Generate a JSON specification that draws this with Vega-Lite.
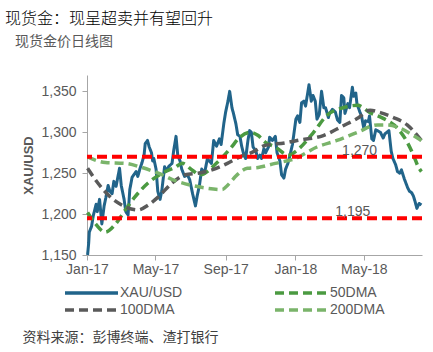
{
  "$schema": "https://vega.github.io/schema/vega-lite/v6.json",
  "width": 335,
  "height": 180,
  "autosize": {"type": "none"},
  "padding": {"left": 87, "top": 75, "right": 11, "bottom": 97},
  "background": "white",
  "config": {"view": {"stroke": null}, "font": "Liberation Sans", "title": {"fontWeight": 300}},
  "title": {
    "text": "现货金：现呈超卖并有望回升",
    "subtitle": "\u2800现货金价日线图",
    "anchor": "start",
    "frame": "group",
    "dx": -82,
    "offset": 26,
    "font": "Noto Sans CJK SC",
    "fontSize": 16,
    "fontWeight": 300,
    "color": "#000000",
    "subtitleFont": "Noto Sans CJK SC",
    "subtitleFontSize": 14,
    "subtitleFontWeight": 400,
    "subtitleColor": "#595959",
    "subtitlePadding": 8
  },
  "datasets": {
    "levels": [
      {"d": "2018-03-24", "v": 1270, "label": "1,270"},
      {"d": "2018-03-12", "v": 1195, "label": "1,195"}
    ],
    "prices": [
      {"d":"2017-01-02","s":"XAU/USD","v":1150},
      {"d":"2017-01-04","s":"XAU/USD","v":1165},
      {"d":"2017-01-05","s":"XAU/USD","v":1178},
      {"d":"2017-01-09","s":"XAU/USD","v":1185},
      {"d":"2017-01-12","s":"XAU/USD","v":1198},
      {"d":"2017-01-17","s":"XAU/USD","v":1212},
      {"d":"2017-01-19","s":"XAU/USD","v":1203},
      {"d":"2017-01-23","s":"XAU/USD","v":1218},
      {"d":"2017-01-27","s":"XAU/USD","v":1188},
      {"d":"2017-01-31","s":"XAU/USD","v":1210},
      {"d":"2017-02-03","s":"XAU/USD","v":1220},
      {"d":"2017-02-07","s":"XAU/USD","v":1235},
      {"d":"2017-02-10","s":"XAU/USD","v":1228},
      {"d":"2017-02-14","s":"XAU/USD","v":1225},
      {"d":"2017-02-17","s":"XAU/USD","v":1240},
      {"d":"2017-02-21","s":"XAU/USD","v":1234},
      {"d":"2017-02-27","s":"XAU/USD","v":1256},
      {"d":"2017-03-02","s":"XAU/USD","v":1235},
      {"d":"2017-03-07","s":"XAU/USD","v":1218},
      {"d":"2017-03-10","s":"XAU/USD","v":1203},
      {"d":"2017-03-14","s":"XAU/USD","v":1199},
      {"d":"2017-03-17","s":"XAU/USD","v":1230},
      {"d":"2017-03-21","s":"XAU/USD","v":1245},
      {"d":"2017-03-24","s":"XAU/USD","v":1248},
      {"d":"2017-03-28","s":"XAU/USD","v":1252},
      {"d":"2017-03-31","s":"XAU/USD","v":1246},
      {"d":"2017-04-04","s":"XAU/USD","v":1256},
      {"d":"2017-04-07","s":"XAU/USD","v":1262},
      {"d":"2017-04-11","s":"XAU/USD","v":1272},
      {"d":"2017-04-13","s":"XAU/USD","v":1286},
      {"d":"2017-04-17","s":"XAU/USD","v":1290},
      {"d":"2017-04-20","s":"XAU/USD","v":1282},
      {"d":"2017-04-24","s":"XAU/USD","v":1275},
      {"d":"2017-04-26","s":"XAU/USD","v":1265},
      {"d":"2017-04-28","s":"XAU/USD","v":1268},
      {"d":"2017-05-02","s":"XAU/USD","v":1255},
      {"d":"2017-05-05","s":"XAU/USD","v":1228},
      {"d":"2017-05-09","s":"XAU/USD","v":1218},
      {"d":"2017-05-12","s":"XAU/USD","v":1228},
      {"d":"2017-05-17","s":"XAU/USD","v":1258},
      {"d":"2017-05-19","s":"XAU/USD","v":1252},
      {"d":"2017-05-24","s":"XAU/USD","v":1258},
      {"d":"2017-05-30","s":"XAU/USD","v":1262},
      {"d":"2017-06-02","s":"XAU/USD","v":1278},
      {"d":"2017-06-06","s":"XAU/USD","v":1295},
      {"d":"2017-06-09","s":"XAU/USD","v":1272},
      {"d":"2017-06-13","s":"XAU/USD","v":1265},
      {"d":"2017-06-16","s":"XAU/USD","v":1255},
      {"d":"2017-06-21","s":"XAU/USD","v":1246},
      {"d":"2017-06-26","s":"XAU/USD","v":1248},
      {"d":"2017-06-30","s":"XAU/USD","v":1242},
      {"d":"2017-07-05","s":"XAU/USD","v":1225},
      {"d":"2017-07-10","s":"XAU/USD","v":1210},
      {"d":"2017-07-13","s":"XAU/USD","v":1222},
      {"d":"2017-07-17","s":"XAU/USD","v":1235},
      {"d":"2017-07-21","s":"XAU/USD","v":1255},
      {"d":"2017-07-26","s":"XAU/USD","v":1250},
      {"d":"2017-07-31","s":"XAU/USD","v":1268},
      {"d":"2017-08-03","s":"XAU/USD","v":1265},
      {"d":"2017-08-07","s":"XAU/USD","v":1262},
      {"d":"2017-08-11","s":"XAU/USD","v":1290},
      {"d":"2017-08-16","s":"XAU/USD","v":1283},
      {"d":"2017-08-21","s":"XAU/USD","v":1292},
      {"d":"2017-08-24","s":"XAU/USD","v":1285},
      {"d":"2017-08-29","s":"XAU/USD","v":1312},
      {"d":"2017-09-01","s":"XAU/USD","v":1325},
      {"d":"2017-09-05","s":"XAU/USD","v":1338},
      {"d":"2017-09-08","s":"XAU/USD","v":1350},
      {"d":"2017-09-12","s":"XAU/USD","v":1330},
      {"d":"2017-09-15","s":"XAU/USD","v":1322},
      {"d":"2017-09-19","s":"XAU/USD","v":1310},
      {"d":"2017-09-22","s":"XAU/USD","v":1297},
      {"d":"2017-09-26","s":"XAU/USD","v":1295},
      {"d":"2017-09-29","s":"XAU/USD","v":1283},
      {"d":"2017-10-03","s":"XAU/USD","v":1272},
      {"d":"2017-10-06","s":"XAU/USD","v":1268},
      {"d":"2017-10-10","s":"XAU/USD","v":1290},
      {"d":"2017-10-13","s":"XAU/USD","v":1302},
      {"d":"2017-10-16","s":"XAU/USD","v":1300},
      {"d":"2017-10-19","s":"XAU/USD","v":1282},
      {"d":"2017-10-24","s":"XAU/USD","v":1277},
      {"d":"2017-10-27","s":"XAU/USD","v":1268},
      {"d":"2017-10-31","s":"XAU/USD","v":1272},
      {"d":"2017-11-03","s":"XAU/USD","v":1268},
      {"d":"2017-11-07","s":"XAU/USD","v":1280},
      {"d":"2017-11-10","s":"XAU/USD","v":1275},
      {"d":"2017-11-15","s":"XAU/USD","v":1282},
      {"d":"2017-11-17","s":"XAU/USD","v":1294},
      {"d":"2017-11-22","s":"XAU/USD","v":1290},
      {"d":"2017-11-27","s":"XAU/USD","v":1295},
      {"d":"2017-11-30","s":"XAU/USD","v":1275},
      {"d":"2017-12-05","s":"XAU/USD","v":1265},
      {"d":"2017-12-08","s":"XAU/USD","v":1248},
      {"d":"2017-12-12","s":"XAU/USD","v":1244},
      {"d":"2017-12-15","s":"XAU/USD","v":1255},
      {"d":"2017-12-19","s":"XAU/USD","v":1262},
      {"d":"2017-12-22","s":"XAU/USD","v":1270},
      {"d":"2017-12-27","s":"XAU/USD","v":1285},
      {"d":"2018-01-02","s":"XAU/USD","v":1316},
      {"d":"2018-01-05","s":"XAU/USD","v":1320},
      {"d":"2018-01-09","s":"XAU/USD","v":1312},
      {"d":"2018-01-12","s":"XAU/USD","v":1336},
      {"d":"2018-01-16","s":"XAU/USD","v":1338},
      {"d":"2018-01-19","s":"XAU/USD","v":1332},
      {"d":"2018-01-25","s":"XAU/USD","v":1358},
      {"d":"2018-01-29","s":"XAU/USD","v":1338},
      {"d":"2018-02-01","s":"XAU/USD","v":1345},
      {"d":"2018-02-05","s":"XAU/USD","v":1338},
      {"d":"2018-02-08","s":"XAU/USD","v":1316},
      {"d":"2018-02-12","s":"XAU/USD","v":1322},
      {"d":"2018-02-16","s":"XAU/USD","v":1350},
      {"d":"2018-02-20","s":"XAU/USD","v":1330},
      {"d":"2018-02-23","s":"XAU/USD","v":1330},
      {"d":"2018-02-28","s":"XAU/USD","v":1318},
      {"d":"2018-03-02","s":"XAU/USD","v":1323},
      {"d":"2018-03-07","s":"XAU/USD","v":1328},
      {"d":"2018-03-12","s":"XAU/USD","v":1325},
      {"d":"2018-03-16","s":"XAU/USD","v":1315},
      {"d":"2018-03-20","s":"XAU/USD","v":1312},
      {"d":"2018-03-23","s":"XAU/USD","v":1345},
      {"d":"2018-03-27","s":"XAU/USD","v":1342},
      {"d":"2018-03-29","s":"XAU/USD","v":1323},
      {"d":"2018-04-03","s":"XAU/USD","v":1335},
      {"d":"2018-04-06","s":"XAU/USD","v":1330},
      {"d":"2018-04-11","s":"XAU/USD","v":1355},
      {"d":"2018-04-13","s":"XAU/USD","v":1344},
      {"d":"2018-04-17","s":"XAU/USD","v":1348},
      {"d":"2018-04-19","s":"XAU/USD","v":1335},
      {"d":"2018-04-24","s":"XAU/USD","v":1325},
      {"d":"2018-04-27","s":"XAU/USD","v":1320},
      {"d":"2018-05-01","s":"XAU/USD","v":1305},
      {"d":"2018-05-04","s":"XAU/USD","v":1314},
      {"d":"2018-05-09","s":"XAU/USD","v":1313},
      {"d":"2018-05-11","s":"XAU/USD","v":1320},
      {"d":"2018-05-15","s":"XAU/USD","v":1292},
      {"d":"2018-05-18","s":"XAU/USD","v":1290},
      {"d":"2018-05-22","s":"XAU/USD","v":1303},
      {"d":"2018-05-25","s":"XAU/USD","v":1302},
      {"d":"2018-05-30","s":"XAU/USD","v":1300},
      {"d":"2018-06-04","s":"XAU/USD","v":1293},
      {"d":"2018-06-07","s":"XAU/USD","v":1298},
      {"d":"2018-06-14","s":"XAU/USD","v":1302},
      {"d":"2018-06-18","s":"XAU/USD","v":1277},
      {"d":"2018-06-21","s":"XAU/USD","v":1268},
      {"d":"2018-06-26","s":"XAU/USD","v":1260},
      {"d":"2018-06-29","s":"XAU/USD","v":1252},
      {"d":"2018-07-03","s":"XAU/USD","v":1250},
      {"d":"2018-07-06","s":"XAU/USD","v":1254},
      {"d":"2018-07-11","s":"XAU/USD","v":1243},
      {"d":"2018-07-17","s":"XAU/USD","v":1232},
      {"d":"2018-07-20","s":"XAU/USD","v":1228},
      {"d":"2018-07-24","s":"XAU/USD","v":1226},
      {"d":"2018-07-27","s":"XAU/USD","v":1222},
      {"d":"2018-07-30","s":"XAU/USD","v":1215},
      {"d":"2018-08-02","s":"XAU/USD","v":1207},
      {"d":"2018-08-06","s":"XAU/USD","v":1213},
      {"d":"2018-08-10","s":"XAU/USD","v":1211},

      {"d":"2017-01-02","s":"50DMA","v":1202},
      {"d":"2017-01-15","s":"50DMA","v":1189},
      {"d":"2017-02-02","s":"50DMA","v":1178},
      {"d":"2017-02-19","s":"50DMA","v":1187},
      {"d":"2017-03-09","s":"50DMA","v":1205},
      {"d":"2017-03-26","s":"50DMA","v":1221},
      {"d":"2017-04-18","s":"50DMA","v":1238},
      {"d":"2017-05-13","s":"50DMA","v":1250},
      {"d":"2017-06-04","s":"50DMA","v":1257},
      {"d":"2017-06-17","s":"50DMA","v":1262},
      {"d":"2017-07-04","s":"50DMA","v":1254},
      {"d":"2017-07-18","s":"50DMA","v":1248},
      {"d":"2017-08-17","s":"50DMA","v":1263},
      {"d":"2017-09-09","s":"50DMA","v":1280},
      {"d":"2017-09-26","s":"50DMA","v":1294},
      {"d":"2017-10-14","s":"50DMA","v":1300},
      {"d":"2017-10-28","s":"50DMA","v":1296},
      {"d":"2017-11-09","s":"50DMA","v":1288},
      {"d":"2017-11-27","s":"50DMA","v":1282},
      {"d":"2017-12-20","s":"50DMA","v":1272},
      {"d":"2018-01-04","s":"50DMA","v":1278},
      {"d":"2018-02-01","s":"50DMA","v":1299},
      {"d":"2018-02-26","s":"50DMA","v":1321},
      {"d":"2018-03-26","s":"50DMA","v":1330},
      {"d":"2018-04-20","s":"50DMA","v":1333},
      {"d":"2018-05-12","s":"50DMA","v":1324},
      {"d":"2018-06-04","s":"50DMA","v":1317},
      {"d":"2018-06-29","s":"50DMA","v":1305},
      {"d":"2018-07-16","s":"50DMA","v":1288},
      {"d":"2018-07-27","s":"50DMA","v":1272},
      {"d":"2018-08-05","s":"50DMA","v":1257},
      {"d":"2018-08-10","s":"50DMA","v":1252},

      {"d":"2017-01-02","s":"100DMA","v":1256},
      {"d":"2017-01-20","s":"100DMA","v":1238},
      {"d":"2017-02-14","s":"100DMA","v":1219},
      {"d":"2017-03-09","s":"100DMA","v":1209},
      {"d":"2017-03-31","s":"100DMA","v":1205},
      {"d":"2017-04-18","s":"100DMA","v":1211},
      {"d":"2017-05-06","s":"100DMA","v":1221},
      {"d":"2017-05-30","s":"100DMA","v":1238},
      {"d":"2017-06-22","s":"100DMA","v":1248},
      {"d":"2017-07-15","s":"100DMA","v":1250},
      {"d":"2017-08-08","s":"100DMA","v":1254},
      {"d":"2017-09-04","s":"100DMA","v":1262},
      {"d":"2017-09-26","s":"100DMA","v":1270},
      {"d":"2017-10-19","s":"100DMA","v":1276},
      {"d":"2017-11-09","s":"100DMA","v":1284},
      {"d":"2017-12-14","s":"100DMA","v":1287},
      {"d":"2018-01-04","s":"100DMA","v":1290},
      {"d":"2018-02-19","s":"100DMA","v":1296},
      {"d":"2018-03-26","s":"100DMA","v":1308},
      {"d":"2018-04-20","s":"100DMA","v":1317},
      {"d":"2018-05-12","s":"100DMA","v":1327},
      {"d":"2018-05-30","s":"100DMA","v":1324},
      {"d":"2018-06-22","s":"100DMA","v":1318},
      {"d":"2018-07-16","s":"100DMA","v":1309},
      {"d":"2018-08-03","s":"100DMA","v":1296},
      {"d":"2018-08-10","s":"100DMA","v":1290},

      {"d":"2017-01-02","s":"200DMA","v":1270},
      {"d":"2017-02-02","s":"200DMA","v":1263},
      {"d":"2017-03-09","s":"200DMA","v":1262},
      {"d":"2017-04-07","s":"200DMA","v":1257},
      {"d":"2017-05-06","s":"200DMA","v":1250},
      {"d":"2017-06-04","s":"200DMA","v":1241},
      {"d":"2017-07-04","s":"200DMA","v":1235},
      {"d":"2017-07-27","s":"200DMA","v":1232},
      {"d":"2017-08-26","s":"200DMA","v":1230},
      {"d":"2017-09-04","s":"200DMA","v":1235},
      {"d":"2017-09-21","s":"200DMA","v":1248},
      {"d":"2017-10-09","s":"200DMA","v":1256},
      {"d":"2017-10-28","s":"200DMA","v":1257},
      {"d":"2017-11-27","s":"200DMA","v":1262},
      {"d":"2018-01-01","s":"200DMA","v":1268},
      {"d":"2018-02-08","s":"200DMA","v":1282},
      {"d":"2018-03-15","s":"200DMA","v":1290},
      {"d":"2018-04-20","s":"200DMA","v":1300},
      {"d":"2018-05-25","s":"200DMA","v":1309},
      {"d":"2018-06-11","s":"200DMA","v":1309},
      {"d":"2018-07-04","s":"200DMA","v":1305},
      {"d":"2018-07-27","s":"200DMA","v":1296},
      {"d":"2018-08-10","s":"200DMA","v":1290}
    ]
  },
  "encoding": {
    "y": {
      "field": "v",
      "type": "quantitative",
      "scale": {"domain": [1150, 1370], "nice": false, "zero": false},
      "axis": {
        "values": [1150, 1200, 1250, 1300, 1350],
        "format": ",.0f",
        "grid": false,
        "title": "XAU/USD",
        "titleX": -59,
        "titleY": 90,
        "titleAngle": 270,
        "titleAlign": "center",
        "titleBaseline": "middle",
        "titleFont": "Liberation Sans",
        "titleFontSize": 13,
        "titleFontWeight": "bold",
        "titleColor": "#595959",
        "labelFont": "Liberation Sans",
        "labelFontSize": 14,
        "labelColor": "#595959",
        "labelPadding": 6,
        "tickSize": 5,
        "domainColor": "#a6a6a6",
        "tickColor": "#a6a6a6"
      }
    }
  },
  "layer": [
    {
      "data": {"name": "prices"},
      "transform": [{"filter": "datum.s === 'XAU/USD'"}],
      "mark": {"type": "line", "strokeWidth": 3, "strokeJoin": "round"},
      "encoding": {
        "x": {
          "field": "d",
          "type": "temporal",
          "scale": {
            "type": "utc",
            "nice": false,
            "domain": [
              {"year": 2017, "month": 1, "date": 1, "utc": true},
              {"year": 2018, "month": 8, "date": 11, "utc": true}
            ]
          },
          "axis": {
            "values": [
              {"year": 2017, "month": 1, "date": 1, "utc": true},
              {"year": 2017, "month": 5, "date": 1, "utc": true},
              {"year": 2017, "month": 9, "date": 1, "utc": true},
              {"year": 2018, "month": 1, "date": 1, "utc": true},
              {"year": 2018, "month": 5, "date": 1, "utc": true}
            ],
            "format": "%b-%y",
            "grid": false,
            "labelFlush": false,
            "labelOverlap": false,
            "title": "资料来源：彭博终端、渣打银行",
            "titleX": -65,
            "titleY": 82,
            "titleAlign": "left",
            "titleBaseline": "middle",
            "titleFont": "Noto Sans CJK SC",
            "titleFontSize": 14,
            "titleFontWeight": "normal",
            "titleColor": "#404040",
            "labelFont": "Liberation Sans",
            "labelFontSize": 14,
            "labelColor": "#595959",
            "labelPadding": 2,
            "tickSize": 5,
            "domainColor": "#a6a6a6",
            "tickColor": "#a6a6a6"
          }
        },
        "color": {
          "field": "s",
          "type": "nominal",
          "scale": {
            "domain": ["XAU/USD", "50DMA", "100DMA", "200DMA"],
            "range": ["#21648a", "#4b9a41", "#5a5a5a", "#7ab46a"]
          },
          "legend": {
            "orient": "none",
            "legendX": -24,
            "legendY": 211,
            "direction": "horizontal",
            "columns": 2,
            "columnPadding": 90,
            "rowPadding": 3,
            "padding": 0,
            "title": null,
            "symbolType": "stroke",
            "symbolSize": 2809,
            "symbolStrokeWidth": 3.5,
            "clipHeight": 14,
            "labelFont": "Liberation Sans",
            "labelFontSize": 14,
            "labelColor": "#595959",
            "labelOffset": 0
          }
        },
        "strokeDash": {
          "field": "s",
          "type": "nominal",
          "scale": {
            "domain": ["XAU/USD", "50DMA", "100DMA", "200DMA"],
            "range": [[1, 0], [9, 5], [9, 5], [9, 5]]
          },
          "legend": {
            "orient": "none",
            "legendX": -24,
            "legendY": 211,
            "direction": "horizontal",
            "columns": 2,
            "columnPadding": 90,
            "rowPadding": 3,
            "padding": 0,
            "title": null,
            "symbolType": "stroke",
            "symbolSize": 2809,
            "symbolStrokeWidth": 3.5,
            "clipHeight": 14,
            "labelFont": "Liberation Sans",
            "labelFontSize": 14,
            "labelColor": "#595959",
            "labelOffset": 0
          }
        }
      }
    },
    {
      "data": {"name": "prices"},
      "transform": [{"filter": "datum.s !== 'XAU/USD'"}],
      "mark": {"type": "line", "strokeWidth": 3.5, "interpolate": "monotone"},
      "encoding": {
        "x": {"field": "d", "type": "temporal"},
        "color": {"field": "s", "type": "nominal"},
        "strokeDash": {"field": "s", "type": "nominal"}
      }
    },
    {
      "data": {"name": "levels"},
      "mark": {"type": "rule", "stroke": "#ff0000", "strokeWidth": 4, "strokeDash": [10, 5]},
      "encoding": {}
    },
    {
      "data": {"name": "levels"},
      "mark": {"type": "text", "align": "left", "baseline": "alphabetic", "dy": -2, "font": "Liberation Sans", "fontSize": 14, "color": "#595959"},
      "encoding": {
        "x": {"field": "d", "type": "temporal"},
        "text": {"field": "label"}
      }
    }
  ]
}
